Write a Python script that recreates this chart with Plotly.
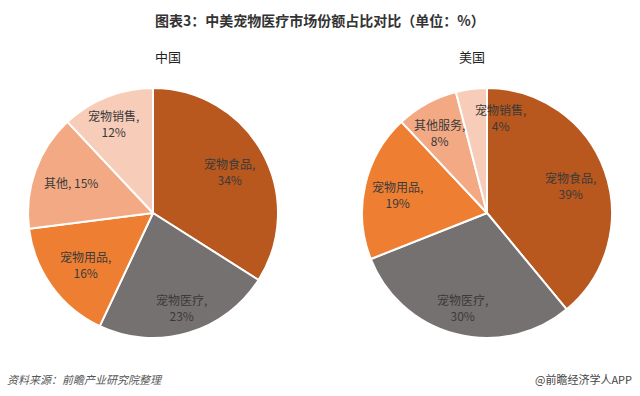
import math
import plotly.graph_objects as go

categories_cn = ["宠物食品", "宠物医疗", "宠物用品", "其他", "宠物销售"]
values_cn = [34, 23, 16, 15, 12]
text_cn = ["宠物食品,<br>34%", "宠物医疗,<br>23%", "宠物用品,<br>16%", "其他, 15%", "宠物销售,<br>12%"]

categories_us = ["宠物食品", "宠物医疗", "宠物用品", "其他服务", "宠物销售"]
values_us = [39, 30, 19, 8, 4]
text_us = ["宠物食品,<br>39%", "宠物医疗,<br>30%", "宠物用品,<br>19%", "其他服务,<br>8%", "宠物销售,<br>4%"]

# label nudges (px) relative to the mid-angle position, mimicking Excel's best-fit placement
nudge_cn = [(0, 1), (4, 10), (3, 0), (0, -1), (-7, -8)]
nudge_us = [(1, 2), (-3, 10), (-4, 1), (-5, -4), (24, -9)]

colors = ["#B8571E", "#767171", "#EE7F32", "#F2A984", "#F7CDB9"]
FONT = "Noto Sans CJK SC, Microsoft YaHei, sans-serif"

W, H = 640, 396
R = 125  # pie radius in px
pies = [
    (categories_cn, values_cn, text_cn, nudge_cn, 153, 213),
    (categories_us, values_us, text_us, nudge_us, 487, 213),
]

fig = go.Figure()
annotations = []
for cats, vals, txt, nudge, cx, cy in pies:
    fig.add_trace(go.Pie(
        labels=cats, values=vals, textinfo="none",
        sort=False, direction="clockwise", rotation=0,
        marker=dict(colors=colors, line=dict(color="white", width=2)),
        domain=dict(x=[(cx - R) / W, (cx + R) / W], y=[1 - (cy + R) / H, 1 - (cy - R) / H]),
        showlegend=False, hoverinfo="label+percent",
    ))
    total = sum(vals)
    cum = 0
    for v, t, (dx, dy) in zip(vals, txt, nudge):
        mid = (cum + v / 2) / total * 2 * math.pi
        cum += v
        rho = 0.7 * R
        px = cx + rho * math.sin(mid) + dx
        py = cy - rho * math.cos(mid) + dy
        annotations.append(dict(
            text=t, x=px / W, y=1 - py / H, xref="paper", yref="paper",
            showarrow=False, xanchor="center", yanchor="middle",
            font=dict(size=12, color="#3a3a3a", family=FONT),
        ))

annotations += [
    dict(text="<b>图表3：中美宠物医疗市场份额占比对比（单位：%）</b>", x=0.5, y=1 - 20 / H,
         xref="paper", yref="paper", showarrow=False, yanchor="middle",
         font=dict(size=14, color="#333333")),
    dict(text="中国", x=153 / W, y=1 - 57 / H, xref="paper", yref="paper", yanchor="middle",
         showarrow=False, font=dict(size=13, color="#222222")),
    dict(text="美国", x=487 / W, y=1 - 57 / H, xref="paper", yref="paper", yanchor="middle",
         showarrow=False, font=dict(size=13, color="#222222")),
    dict(text="<i>资料来源：前瞻产业研究院整理</i>", x=5 / W, y=1 - 379 / H, xref="paper", yref="paper",
         xanchor="left", yanchor="middle", showarrow=False, font=dict(size=11, color="#555555")),
    dict(text="@前瞻经济学人APP", x=1 - 6 / W, y=1 - 379 / H, xref="paper", yref="paper",
         xanchor="right", yanchor="middle", showarrow=False, font=dict(size=11, color="#444444")),
]

fig.update_layout(
    width=W, height=H, margin=dict(l=0, r=0, t=0, b=0),
    paper_bgcolor="white", plot_bgcolor="white",
    font=dict(family=FONT, color="#333333"),
    annotations=annotations,
)

fig.write_html("out.html", config={"displayModeBar": False},
               post_script="document.body.style.margin='0px';document.body.style.overflow='hidden';")
